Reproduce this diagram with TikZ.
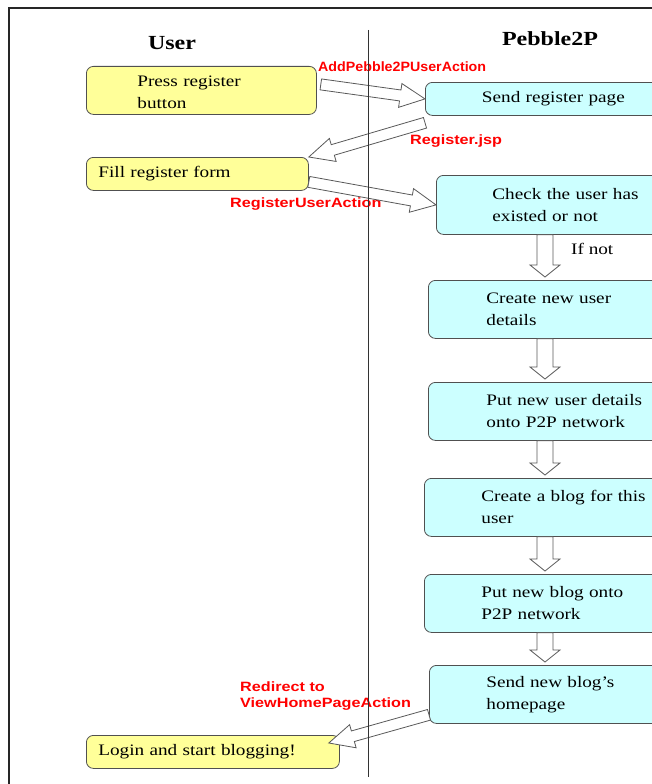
\documentclass[tikz,border=0pt]{standalone}
\usepackage{fontspec}
\setmainfont[FakeStretch=1.2]{Liberation Serif}
\newfontfamily\labelfont[FakeStretch=1.2]{Liberation Sans}
\usetikzlibrary{calc}

\definecolor{useryellow}{HTML}{FFFF99}
\definecolor{servercyan}{HTML}{CCFFFF}
\definecolor{boxline}{HTML}{505050}

% hollow block arrow: from, to, half shaft, half head, head length
\newcommand{\fatarrow}[5]{%
  \coordinate (fa) at ($(#2)!#5!(#1)$);
  \draw[fat] ($(#1)!#3!90:(#2)$) -- ($(fa)!#3!90:(#2)$) -- ($(fa)!#4!90:(#2)$) -- (#2)
    -- ($(fa)!#4!-90:(#2)$) -- ($(fa)!#3!-90:(#2)$) -- ($(#1)!#3!-90:(#2)$) -- cycle;}

\begin{document}
\begin{tikzpicture}[x=1pt,y=-1pt]
  \tikzset{box/.style = {draw=boxline,rounded corners=7pt,line width=0.8pt,anchor=north west,
      align=left,inner ysep=0pt,font=\fontsize{16}{22}\selectfont}}
  \tikzset{userbox/.style = {box,fill=useryellow}}
  \tikzset{p2pbox/.style = {box,fill=servercyan}}
  \tikzset{header/.style = {font=\fontsize{20}{24}\selectfont\bfseries}}
  \tikzset{action/.style = {text=red,anchor=west,align=left,inner sep=0pt,
      font=\labelfont\bfseries\fontsize{13.5}{16}\selectfont}}
  \tikzset{fat/.style = {draw=black!65,fill=white,line width=0.8pt,line join=miter}}

  \useasboundingbox (0,0) rectangle (652,784);
  \clip (0,0) rectangle (652,784);

  \draw[line width=1.6pt,black!85] (652,8) -- (9,8) -- (9,784);

	\node[header] (usr) at (172,43) {User};
	\node[header] (peer) at (550,39) {Pebble2P};

	\node[userbox,inner xsep=51pt,text width=128pt,minimum height=48pt] (press) at (86,66) {\rule{0pt}{14pt}Press register\\button};
	\node[userbox,inner xsep=12pt,text width=198pt,minimum height=33pt] (fill) at (86,157) {Fill register form};
	\node[userbox,inner xsep=12pt,text width=229pt,minimum height=33pt] (login) at (86,735) {Login and start blogging!};

	\node[p2pbox,align=center,inner xsep=48pt,text width=160pt,minimum height=33pt] (send) at (425,82) {Send register page};
	\node[p2pbox,inner xsep=56pt,text width=170pt,minimum height=59pt] (check) at (436,175) {Check the user has\\existed or not};
	\node[p2pbox,inner xsep=58pt,text width=170pt,minimum height=58pt] (create) at (428,280) {Create new user\\details};
	\node[p2pbox,inner xsep=58pt,text width=170pt,minimum height=58pt] (putuser) at (428,382) {Put new user details\\onto P2P network};
	\node[p2pbox,inner xsep=57pt,text width=175pt,minimum height=58pt] (blog) at (424,478) {Create a blog for this\\user};
	\node[p2pbox,inner xsep=57pt,text width=175pt,minimum height=58pt] (putblog) at (424,574) {Put new blog onto\\P2P network};
	\node[p2pbox,inner xsep=57pt,text width=175pt,minimum height=58pt] (sendblog) at (429,665) {Send new blog’s\\homepage};

	\node[action] (addlab) at (318,67) {\scalebox{0.88}[1]{AddPebble2PUserAction}};
	\node[action] (jsplab) at (410,141) {Register.jsp};
	\node[action] (reglab) at (230,204) {RegisterUserAction};
	\node[action] (redirlab) at (240,696) {Redirect to\\ViewHomePageAction};
	\node[anchor=west,inner sep=0pt,font=\fontsize{16}{22}\selectfont] (ifnot) at (571,249) {If not};

  \coordinate (spine) at (545,0);

  \fatarrow{$(press.east)+(4,-6)$}{send.west}{5.5pt}{12pt}{25pt}
  \fatarrow{$(send.south west)+(0,7)$}{fill.north east}{5.5pt}{12pt}{25pt}
  \fatarrow{$(fill.east)+(0,8)$}{check.west}{5.5pt}{12pt}{25pt}
  \fatarrow{$(sendblog.south west)+(0,-9)$}{$(login.north east)+(-11,8)$}{5.5pt}{12pt}{25pt}

       \foreach \from/\to in {check/create,create/putuser,putuser/blog,blog/putblog,putblog/sendblog}{
    \coordinate (tail) at (\from.south -| spine);
    \coordinate (tip) at ($(\to.north -| spine)+(0,-3)$);
    \fatarrow{tail}{tip}{8pt}{15pt}{12pt}}

  \draw[line width=0.8pt,black!80] (368,30) -- (368,777);
\end{tikzpicture}
\end{document}
